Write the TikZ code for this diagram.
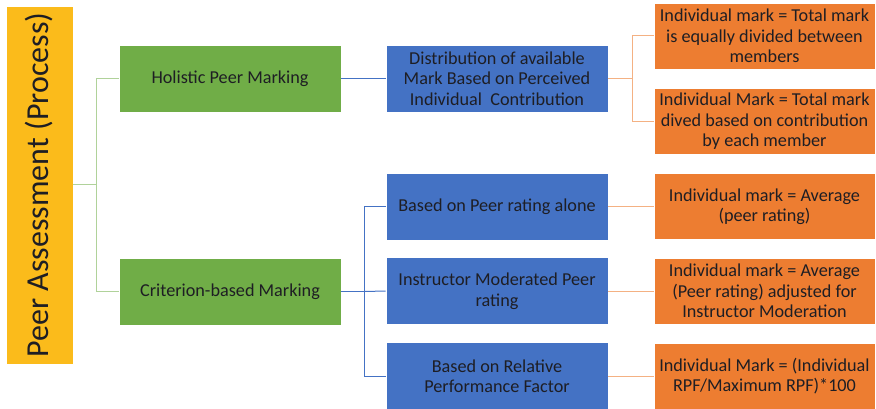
\documentclass[tikz,border=0pt]{standalone}
\usepackage{fontspec}
\setmainfont{Carlito}
\usepackage{tikz}

\definecolor{rootyellow}{HTML}{FBBB1B}
\definecolor{levgreen}{HTML}{70AD47}
\definecolor{levblue}{HTML}{4472C4}
\definecolor{levorange}{HTML}{ED7D31}
\definecolor{inktext}{HTML}{1E1E24}

\begin{document}
\begin{tikzpicture}[x=1pt, y=-1pt, font=\fontsize{18.2}{20.5}\selectfont,
  box/.style={draw=white, line width=0.6pt, text=inktext, align=center, inner sep=1pt},
  greenbox/.style={box, fill=levgreen, minimum width=222pt, minimum height=67pt},
  bluebox/.style={box, fill=levblue, minimum width=222pt, minimum height=67pt},
  orangebox/.style={box, fill=levorange, minimum width=221pt, minimum height=66pt},
  glink/.style={levgreen!55, line width=1pt},
  blink/.style={levblue, line width=1pt},
  olink/.style={levorange!60, line width=1pt}]
  \useasboundingbox (0,0) rectangle (876,409);
  % root
  \node[box, fill=rootyellow, minimum width=67pt, minimum height=358pt, font=\fontsize{32}{34}\selectfont] (root) at (39.5,185) {\rotatebox{90}{Peer Assessment (Process)}};
  % level 1
  \node[greenbox] (hol) at (230,78.5) {Holistic Peer Marking};
  \node[greenbox] (crit) at (230,291.5) {Criterion-based Marking};
  % level 2
  \node[bluebox] (dist) at (497,78.5) {Distribution of available\\Mark Based on Perceived\\Individual\ \ Contribution};
  \node[bluebox] (alone) at (497,206.5) {Based on Peer rating alone};
  \node[bluebox] (moder) at (497,291) {Instructor Moderated Peer\\rating};
  \node[bluebox] (rpf) at (497,376) {Based on Relative\\Performance Factor};
  % level 3
  \node[orangebox] (equal) at (764.5,36) {Individual mark = Total mark\\is equally divided between\\members};
  \node[orangebox] (contrib) at (764.5,121.5) {Individual Mark = Total mark\\dived based on contribution\\by each member};
  \node[orangebox] (avg) at (764.5,206.5) {Individual mark = Average\\(peer rating)};
  \node[orangebox] (adj) at (764.5,291) {Individual mark = Average\\(Peer rating) adjusted for\\Instructor Moderation};
  \node[orangebox] (rel) at (764.5,376) {Individual Mark = (Individual\\RPF/Maximum RPF)*100};
  % connectors
  \draw[glink] (root.east) -- +(23,0) coordinate (gfork) |- (hol.west);
  \draw[glink] (gfork) |- (crit.west);
  \draw[blink] (hol.east) -- (dist.west);
  \draw[blink] (crit.east) -- +(23,0) coordinate (bfork) |- (alone.west);
  \draw[blink] (bfork) -- (moder.west);
  \draw[blink] (bfork) |- (rpf.west);
  \draw[olink] (dist.east) -- +(24,0) coordinate (ofork) |- (equal.west);
  \draw[olink] (ofork) |- (contrib.west);
  \draw[olink] (alone.east) -- (avg.west);
  \draw[olink] (moder.east) -- (adj.west);
  \draw[olink] (rpf.east) -- (rel.west);
\end{tikzpicture}
\end{document}
